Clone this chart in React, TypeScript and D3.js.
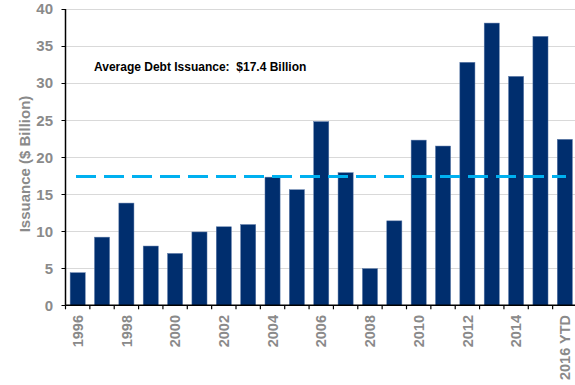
import React from "react";
import * as d3 from "d3";

const categories = ["1996","1997","1998","1999","2000","2001","2002","2003","2004","2005","2006","2007","2008","2009","2010","2011","2012","2013","2014","2015","2016 YTD"];
const values = [4.4, 9.2, 13.8, 8.0, 7.0, 9.9, 10.6, 10.9, 17.3, 15.6, 24.8, 17.9, 4.95, 11.4, 22.3, 21.5, 32.8, 38.1, 30.9, 36.3, 22.4];
const labeledCategories = ["1996","1998","2000","2002","2004","2006","2008","2010","2012","2014","2016 YTD"];
const yTicks = [0, 5, 10, 15, 20, 25, 30, 35, 40];
const averageValue = 17.4;
const averageLabel = "Average Debt Issuance:  $17.4 Billion";
const yTitle = "Issuance ($ Billion)";

export default function App() {
  const W = 575, H = 385;
  const left = 65.5, right = 577, top = 9, bottom = 305.3;
  const x = d3.scaleBand<string>().domain(categories).range([left, right]).paddingInner(0.38).paddingOuter(0.19);
  const y = d3.scaleLinear().domain([0, 40]).range([bottom, top]);
  const step = x.step();
  const bw = x.bandwidth();
  const gap = (step - bw) / 2;
  const font = "'Liberation Sans', Arial, sans-serif";
  const gray = "#8a8a8a";
  return (
    <svg width={W} height={H} style={{ position: "absolute", left: 0, top: 0, background: "#fff" }} fontFamily={font}>
      {yTicks.map((t) => (
        <g key={t}>
          {t > 0 && <line x1={left} x2={W} y1={Math.round(y(t)) + 0.5} y2={Math.round(y(t)) + 0.5} stroke="#d9d9d9" strokeWidth={1} />}
          <line x1={left - 4} x2={left} y1={Math.round(y(t)) + 0.5} y2={Math.round(y(t)) + 0.5} stroke="#000" strokeWidth={1} />
          <text x={53} y={y(t)} dy="0.36em" textAnchor="end" fontSize={15} fontWeight="bold" fill={gray}>{t}</text>
        </g>
      ))}
      {categories.map((c, i) => (
        <rect key={c} x={x(c)!} y={y(values[i])} width={bw} height={bottom - y(values[i])} fill="#002E6E" stroke="#5a79a8" strokeWidth={0.5} />
      ))}
      <line x1={76} x2={566} y1={y(averageValue)} y2={y(averageValue)} stroke="#00B0F0" strokeWidth={3} strokeDasharray="20 8" />
      <text x={94} y={70.5} fontSize={12} fontWeight="bold" fill="#000" style={{ whiteSpace: "pre" }}>{averageLabel}</text>
      <line x1={left} x2={left} y1={top} y2={bottom} stroke="#000" strokeWidth={1.5} />
      <line x1={left} x2={W} y1={bottom} y2={bottom} stroke="#000" strokeWidth={1.5} />
      {categories.map((c) => (
        <line key={"t" + c} x1={x(c)! - gap} x2={x(c)! - gap} y1={bottom} y2={bottom + 4} stroke="#000" strokeWidth={1.2} />
      ))}
      {labeledCategories.map((c) => {
        const cx = x(c)! + bw / 2;
        return (
          <text key={"l" + c} transform={`translate(${cx},${315}) rotate(-90)`} dy="0.36em" textAnchor="end" fontSize={14.5} fontWeight="bold" fill={gray}>{c}</text>
        );
      })}
      <text transform={`translate(25,${164}) rotate(-90)`} dy="0.36em" textAnchor="middle" fontSize={15} fontWeight="bold" fill={gray}>{yTitle}</text>
    </svg>
  );
}
